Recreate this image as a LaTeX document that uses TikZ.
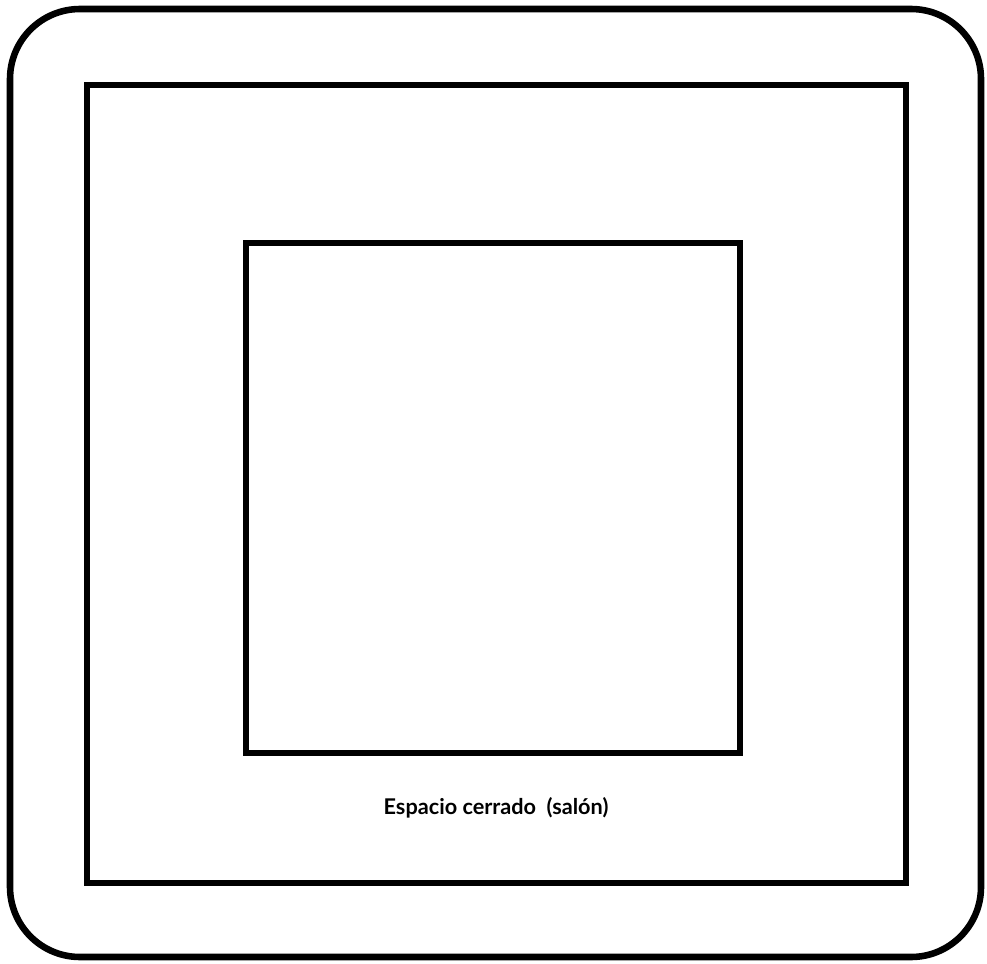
\documentclass[tikz,border=0pt]{standalone}
\usepackage{fontspec}
\setsansfont{Lato}
\usepackage{tikz}
\usetikzlibrary{calc}

\tikzset{
  wall/.style={line width=4.6pt, line join=miter},
  frame/.style={line width=5.6pt, rounded corners=2.1cm},
  label/.style={font=\sffamily\bfseries\fontsize{18.5}{20}\selectfont}
}

\begin{document}
\begin{tikzpicture}[x=0.03cm, y=-0.03cm, line cap=round]
  \useasboundingbox (0,0) rectangle (987,964);

  % --- outer rounded frame ---
  \draw[frame] (10,9) rectangle (981,957);

  % --- enclosed space (hall) ---
  \draw[wall] (87,85) rectangle (906,883);

  % --- inner square ---
  \draw[wall] (246,243) rectangle (740,753);

  \node[label] (salon) at (496,808) {Espacio cerrado\ \ (salón)};
\end{tikzpicture}
\end{document}
